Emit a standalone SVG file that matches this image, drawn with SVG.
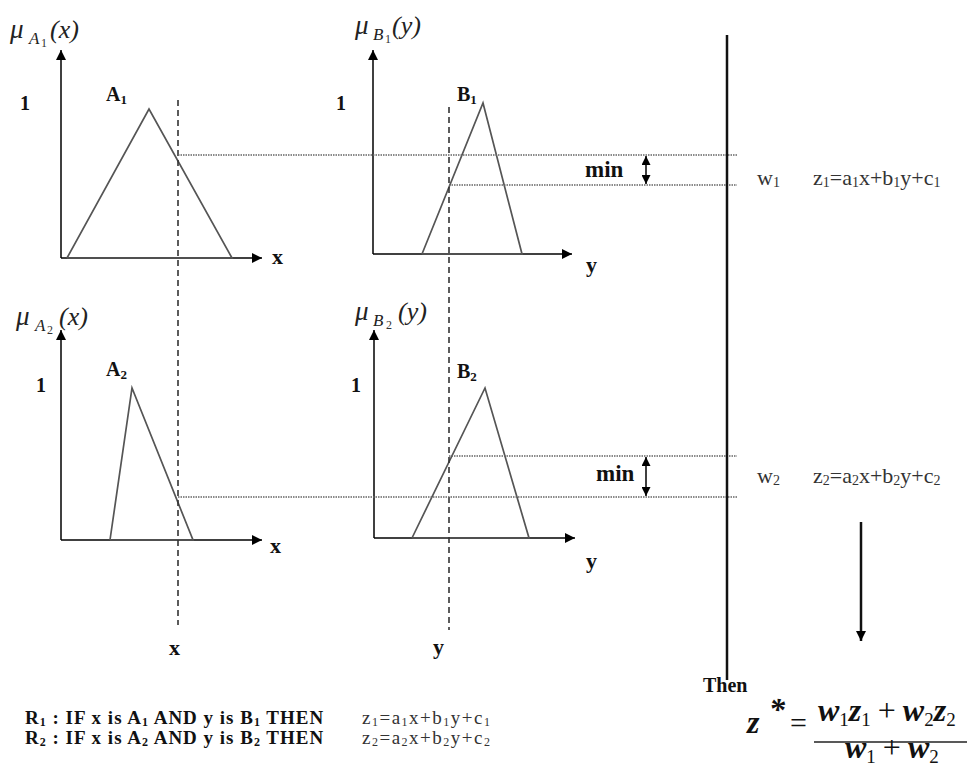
<svg xmlns="http://www.w3.org/2000/svg" width="973" height="774" viewBox="0 0 973 774">
<defs>
<marker id="ah" viewBox="0 0 10 10" refX="10" refY="5" markerWidth="11" markerHeight="10" markerUnits="userSpaceOnUse" orient="auto-start-reverse">
<path d="M0,0 L10,5 L0,10 z" fill="#000"/>
</marker>
<marker id="ahs" viewBox="0 0 10 10" refX="10" refY="5" markerWidth="9" markerHeight="9" markerUnits="userSpaceOnUse" orient="auto-start-reverse">
<path d="M0,0 L10,5 L0,10 z" fill="#000"/>
</marker>
</defs>
<style>
.axis{stroke:#000;stroke-width:1.5;fill:none;marker-end:url(#ah)}
.tri{stroke:#555;stroke-width:1.7;fill:none}
.dash{stroke:#333;stroke-width:1.6;stroke-dasharray:6,4;fill:none}
.dot{stroke:#666;stroke-width:1.3;stroke-dasharray:1.5,1;fill:none}
.b{font-family:"Liberation Serif",serif;font-weight:bold;fill:#111}
.n{font-family:"Liberation Serif",serif;fill:#333}
.it{font-family:"Liberation Serif",serif;font-style:italic;fill:#222}
.f{font-family:"Liberation Serif",serif;font-style:italic;font-weight:bold;fill:#111;font-size:32px}
.sub{font-style:normal;font-weight:normal;font-size:19px}
.rule{font-size:19px;letter-spacing:1px}
.rz{font-size:19px;letter-spacing:1.5px}
</style>
<rect width="973" height="774" fill="#fff"/>

<g id="panel-A1">
<line class="axis" x1="61" y1="258" x2="61" y2="50"/>
<line class="axis" x1="61" y1="258" x2="262" y2="258"/>
<polyline class="tri" points="67,258 149,109 232,258 67,258"/>
<text class="it" x="10" y="38" font-size="27">μ</text>
<text class="it" x="29" y="44" font-size="17">A</text>
<text class="n" x="41" y="47" font-size="12" fill="#222">1</text>
<text class="it" x="50" y="38" font-size="26">(x)</text>
<text class="b" x="20" y="110" font-size="20">1</text>
<text class="b" x="106" y="101" font-size="20">A<tspan font-size="13" dy="3">1</tspan></text>
<text class="b" x="272" y="264" font-size="22">x</text>
</g>

<g id="panel-B1">
<line class="axis" x1="373" y1="254" x2="373" y2="50"/>
<line class="axis" x1="373" y1="254" x2="572" y2="254"/>
<polyline class="tri" points="422,254 483,103 522,254 422,254"/>
<text class="it" x="355" y="34" font-size="27">μ</text>
<text class="it" x="373" y="40" font-size="17">B</text>
<text class="n" x="385" y="43" font-size="12" fill="#222">1</text>
<text class="it" x="392" y="34" font-size="26">(y)</text>
<text class="b" x="336" y="110" font-size="20">1</text>
<text class="b" x="457" y="101" font-size="20">B<tspan font-size="13" dy="3">1</tspan></text>
<text class="b" x="586" y="272" font-size="22">y</text>
</g>

<g id="panel-A2">
<line class="axis" x1="61" y1="540" x2="61" y2="330"/>
<line class="axis" x1="61" y1="540" x2="262" y2="540"/>
<polyline class="tri" points="110,540 132,388 193,540 110,540"/>
<text class="it" x="16" y="325" font-size="27">μ</text>
<text class="it" x="35" y="331" font-size="17">A</text>
<text class="n" x="47" y="334" font-size="12" fill="#222">2</text>
<text class="it" x="59" y="325" font-size="26">(x)</text>
<text class="b" x="36" y="392" font-size="20">1</text>
<text class="b" x="106" y="376" font-size="20">A<tspan font-size="13" dy="3">2</tspan></text>
<text class="b" x="270" y="553" font-size="22">x</text>
</g>

<g id="panel-B2">
<line class="axis" x1="374" y1="538" x2="374" y2="330"/>
<line class="axis" x1="374" y1="538" x2="575" y2="538"/>
<polyline class="tri" points="412,538 485,388 529,538 412,538"/>
<text class="it" x="355" y="320" font-size="27">μ</text>
<text class="it" x="373" y="326" font-size="17">B</text>
<text class="n" x="386" y="329" font-size="12" fill="#222">2</text>
<text class="it" x="398" y="320" font-size="26">(y)</text>
<text class="b" x="351" y="392" font-size="20">1</text>
<text class="b" x="457" y="378" font-size="20">B<tspan font-size="13" dy="3">2</tspan></text>
<text class="b" x="586" y="568" font-size="22">y</text>
</g>

<g id="connectors">
<line class="dash" x1="178" y1="100" x2="178" y2="625"/>
<line class="dash" x1="449" y1="107" x2="449" y2="630"/>
<line class="dot" x1="178" y1="155" x2="737" y2="155"/>
<line class="dot" x1="449" y1="185" x2="737" y2="185"/>
<line class="dot" x1="449" y1="456" x2="737" y2="456"/>
<line class="dot" x1="178" y1="497" x2="737" y2="497"/>
<line x1="646" y1="156" x2="646" y2="184" stroke="#000" stroke-width="1.5" marker-start="url(#ahs)" marker-end="url(#ahs)"/>
<line x1="646" y1="457" x2="646" y2="496" stroke="#000" stroke-width="1.5" marker-start="url(#ahs)" marker-end="url(#ahs)"/>
<line x1="727" y1="35" x2="727" y2="680" stroke="#111" stroke-width="2.5"/>
<line x1="861" y1="522" x2="861" y2="641" stroke="#111" stroke-width="2.5" marker-end="url(#ah)"/>
</g>

<g id="min-labels">
<text class="b" x="585" y="177" font-size="23">min</text>
<text class="b" x="596" y="481" font-size="23">min</text>
<text class="b" x="169" y="655" font-size="22">x</text>
<text class="b" x="433" y="654" font-size="22">y</text>
</g>

<g id="outputs">
<text class="n" x="757" y="185" font-size="22" fill="#777">w<tspan font-size="14" dy="2">1</tspan></text>
<text class="n" x="813" y="185" font-size="22">z<tspan font-size="14" dy="2">1</tspan><tspan dy="-2">=a</tspan><tspan font-size="14" dy="2">1</tspan><tspan dy="-2">x+b</tspan><tspan font-size="14" dy="2">1</tspan><tspan dy="-2">y+c</tspan><tspan font-size="14" dy="2">1</tspan></text>
<text class="n" x="757" y="483" font-size="22" fill="#777">w<tspan font-size="14" dy="2">2</tspan></text>
<text class="n" x="813" y="483" font-size="22">z<tspan font-size="14" dy="2">2</tspan><tspan dy="-2">=a</tspan><tspan font-size="14" dy="2">2</tspan><tspan dy="-2">x+b</tspan><tspan font-size="14" dy="2">2</tspan><tspan dy="-2">y+c</tspan><tspan font-size="14" dy="2">2</tspan></text>
</g>

<g id="rules">
<text class="b rule" x="25" y="724">R<tspan font-size="12" dy="2">1</tspan><tspan dy="-2"> : IF x is A</tspan><tspan font-size="12" dy="2">1</tspan><tspan dy="-2"> AND y is B</tspan><tspan font-size="12" dy="2">1</tspan><tspan dy="-2"> THEN</tspan></text>
<text class="n rz" x="362" y="724" fill="#111">z<tspan font-size="12" dy="2">1</tspan><tspan dy="-2">=a</tspan><tspan font-size="12" dy="2">1</tspan><tspan dy="-2">x+b</tspan><tspan font-size="12" dy="2">1</tspan><tspan dy="-2">y+c</tspan><tspan font-size="12" dy="2">1</tspan></text>
<text class="b rule" x="25" y="744">R<tspan font-size="12" dy="2">2</tspan><tspan dy="-2"> : IF x is A</tspan><tspan font-size="12" dy="2">2</tspan><tspan dy="-2"> AND y is B</tspan><tspan font-size="12" dy="2">2</tspan><tspan dy="-2"> THEN</tspan></text>
<text class="n rz" x="362" y="744" fill="#111">z<tspan font-size="12" dy="2">2</tspan><tspan dy="-2">=a</tspan><tspan font-size="12" dy="2">2</tspan><tspan dy="-2">x+b</tspan><tspan font-size="12" dy="2">2</tspan><tspan dy="-2">y+c</tspan><tspan font-size="12" dy="2">2</tspan></text>
</g>

<g id="formula">
<text class="b" x="703" y="692" font-size="20">Then</text>
<text class="f" x="747" y="733">z</text>
<text class="f" x="769" y="720" font-size="16">*</text>
<text x="790" y="733" font-family="Liberation Serif,serif" font-size="30" fill="#111">=</text>
<line x1="814" y1="742" x2="967" y2="742" stroke="#222" stroke-width="1.6"/>
<text class="f" x="818" y="721">w<tspan class="sub" dy="5">1</tspan><tspan dy="-5">z</tspan><tspan class="sub" dy="5">1</tspan><tspan dy="-5" dx="7" font-style="normal" font-weight="normal">+</tspan><tspan dx="7">w</tspan><tspan class="sub" dy="5">2</tspan><tspan dy="-5">z</tspan><tspan class="sub" dy="5">2</tspan></text>
<text class="f" x="845" y="758">w<tspan class="sub" dy="5">1</tspan><tspan dy="-5" dx="7" font-style="normal" font-weight="normal">+</tspan><tspan dx="7">w</tspan><tspan class="sub" dy="5">2</tspan></text>
</g>
</svg>
